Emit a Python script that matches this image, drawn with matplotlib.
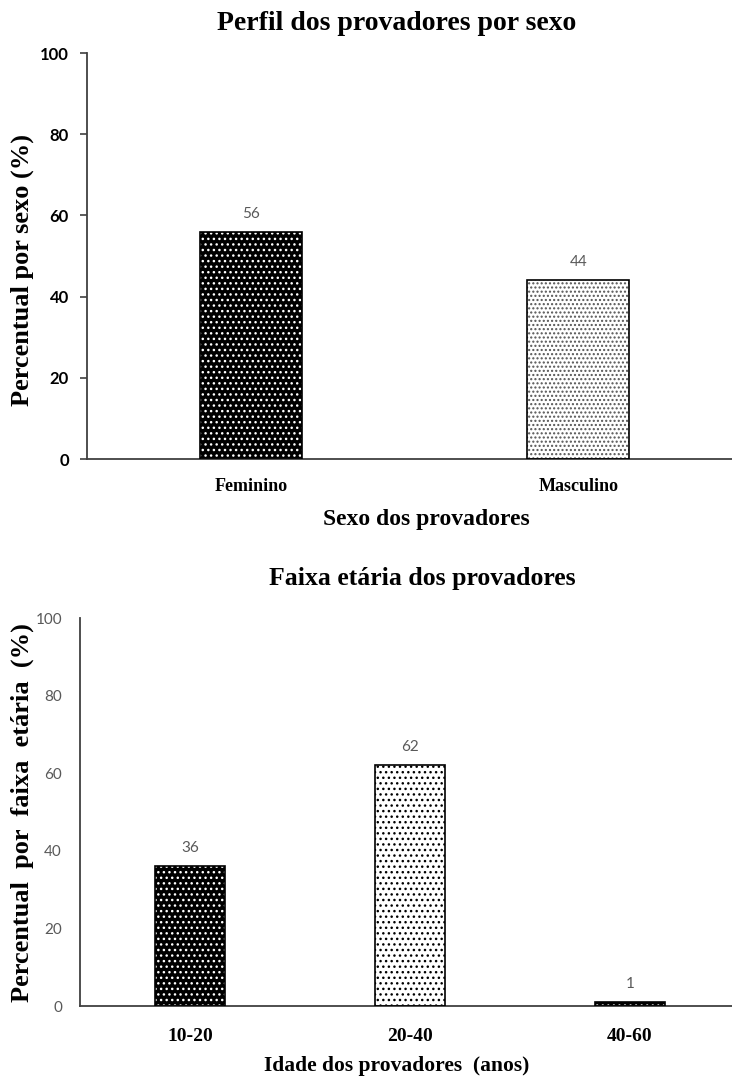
#===============================================================================
# Perfil dos provadores: sexo e faixa etaria
#===============================================================================
import numpy as np
import matplotlib
matplotlib.use("Agg")
import matplotlib.pyplot as plt

#===============================================================================
# Data
#===============================================================================
sexo_cats = ["Feminino", "Masculino"]
sexo_vals = [56, 44]

idade_cats = ["10-20", "20-40", "40-60"]
idade_vals = [36, 62, 1]

SERIF = "Liberation Serif"
SANS = "Lato"
SPINE = "#404040"
W, H = 732, 1077

plt.rcParams["hatch.linewidth"] = 1.0


def hatched_bars(ax, x, vals, width, faces, dots, hatches):
    # fill + hatch first, then the black outline on top
    for xi, v, fc, dc, h in zip(x, vals, faces, dots, hatches):
        ax.bar(xi, v, width, color=fc, edgecolor=dc, linewidth=0, hatch=h, zorder=2)
    ax.bar(x, vals, width, fill=False, edgecolor="black", linewidth=1.2, zorder=3)


def style_axes(ax):
    for s in ("top", "right"):
        ax.spines[s].set_visible(False)
    for s in ("left", "bottom"):
        ax.spines[s].set_color(SPINE)
        ax.spines[s].set_linewidth(1.3)
    ax.set_ylim(0, 100)
    ax.set_yticks(np.arange(0, 101, 20))


def ftext(px, py, s, size, **kw):
    # place text by pixel position (from top-left)
    fig.text(px / W, 1 - py / H, s, fontfamily=SERIF, fontweight="bold", fontsize=size,
             ha="center", va="center", **kw)


#===============================================================================
# Figure
#===============================================================================
fig = plt.figure(figsize=(W / 100, H / 100), dpi=100)

# ---- top: sexo ----
ax1 = fig.add_axes([87 / W, 1 - 459 / H, 655 / W, 406 / H])
x1 = np.arange(len(sexo_cats))
hatched_bars(ax1, x1, sexo_vals, 0.31,
             ["black", "white"], ["white", "#555555"], ["...", "...."])
style_axes(ax1)
ax1.set_xlim(-0.5, 1.5)
ax1.set_xticks(x1)
ax1.set_xticklabels(sexo_cats, fontfamily=SERIF, fontweight="bold", fontsize=13)
ax1.tick_params(axis="x", length=0, pad=14)
ax1.tick_params(axis="y", direction="out", length=5, width=1.2, color=SPINE, pad=8)
for lab in ax1.get_yticklabels():
    lab.set_fontfamily(SANS)
    lab.set_fontweight("bold")
    lab.set_fontsize(12)
for xi, v in zip(x1, sexo_vals):
    ax1.annotate(str(v), (xi, v), xytext=(0, 8), textcoords="offset points",
                 ha="center", va="bottom", color="#595959", fontsize=11, fontfamily=SANS)

ftext(397, 24, "Perfil dos provadores por sexo", 20)
ftext(426, 519, "Sexo dos provadores", 17)
ftext(22, 270, "Percentual por sexo (%)", 19, rotation=90)

# ---- bottom: faixa etaria ----
ax2 = fig.add_axes([80 / W, 1 - 1006 / H, 660 / W, 388 / H])
x2 = np.arange(len(idade_cats))
hatched_bars(ax2, x2, idade_vals, 0.32,
             ["black", "white", "black"], ["white", "black", "white"], ["...", "...", "..."])
style_axes(ax2)
ax2.set_xlim(-0.5, 2.5)
ax2.set_xticks(x2)
ax2.set_xticklabels(idade_cats, fontfamily=SERIF, fontweight="bold", fontsize=14)
ax2.tick_params(axis="x", length=0, pad=16)
ax2.tick_params(axis="y", length=0, pad=13)
for lab in ax2.get_yticklabels():
    lab.set_fontfamily(SANS)
    lab.set_color("#595959")
    lab.set_fontsize(11)
for xi, v in zip(x2, idade_vals):
    ax2.annotate(str(v), (xi, v), xytext=(0, 8), textcoords="offset points",
                 ha="center", va="bottom", color="#595959", fontsize=11, fontfamily=SANS)

ftext(422, 578, "Faixa etária dos provadores", 18.5)
ftext(397, 1066, "Idade dos provadores  (anos)", 15.5)
ftext(22, 813, "Percentual  por  faixa  etária  (%)", 19, rotation=90)

plt.savefig("out.png", dpi=100)
